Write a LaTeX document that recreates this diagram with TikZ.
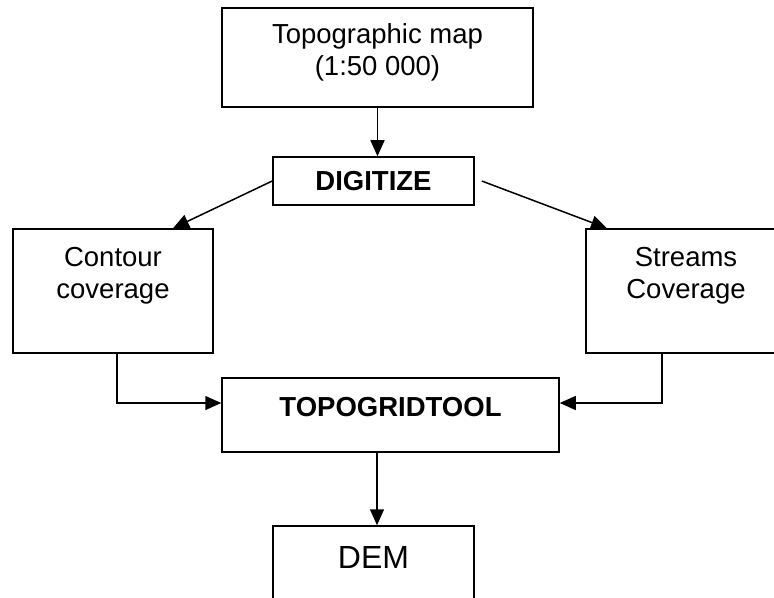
\documentclass[tikz,border=0pt]{standalone}
\usepackage{fontspec}
\setmainfont{Liberation Sans}
\usetikzlibrary{arrows.meta,calc}

\tikzset{
  box/.style={draw=black, line width=1.5bp, rectangle, inner sep=0pt,
    align=center, font=\fontsize{27.5bp}{32bp}\selectfont},
  bigtext/.style={font=\fontsize{32bp}{38bp}\selectfont},
  flow/.style={draw=black, line width=1.5bp,
    -{Triangle[length=16bp,width=14bp]}},
}

\begin{document}
\begin{tikzpicture}[x=1bp,y=1bp]
  \useasboundingbox (0,0) rectangle (774,-598);
  \clip (0,0) rectangle (774,-598);
  \fill[white] (0,0) rectangle (774,-598);

  % boxes
  \node[box, minimum width=311bp, minimum height=99bp, text depth=16bp]
    (map) at (377.5,-57.5) {Topographic map\\(1:50 000)};
  \node[box, minimum width=201bp, minimum height=48bp]
    (dig) at (373.5,-181) {\textbf{DIGITIZE}};
  \node[box, minimum width=200bp, minimum height=124bp, text depth=36bp]
    (cont) at (113,-291) {Contour\\coverage};
  \node[box, minimum width=200bp, minimum height=124bp, text depth=36bp]
    (strm) at (686,-291) {Streams\\Coverage};
  \node[box, minimum width=337bp, minimum height=74bp, text depth=16bp]
    (topo) at (390.5,-415) {\textbf{TOPOGRIDTOOL}};
  \node[box, bigtext, minimum width=201bp, minimum height=100bp, text depth=38bp]
    (dem) at (373.5,-576) {DEM};

  % start of the link from TOPOGRIDTOOL down to DEM
  \coordinate (topoout) at ($(topo.south)+(-13.5,0)$);

  % connectors
  \draw[flow] (map.south) -- (map.south |- dig.north);
  \draw[flow] (dig.west) -- ($(cont.north)+(60,0)$);
  \draw[flow] ($(dig.east)+(7,0)$) -- ($(strm.north)+(-79,0)$);
  \draw[flow] ($(cont.south)+(4,0)$) |- ($(topo.west)+(0,12)$);
  \draw[flow] ($(strm.south)+(-24,0)$) |- ($(topo.east)+(0,12)$);
  \draw[flow] (topoout) -- (topoout |- dem.north);
\end{tikzpicture}
\end{document}
